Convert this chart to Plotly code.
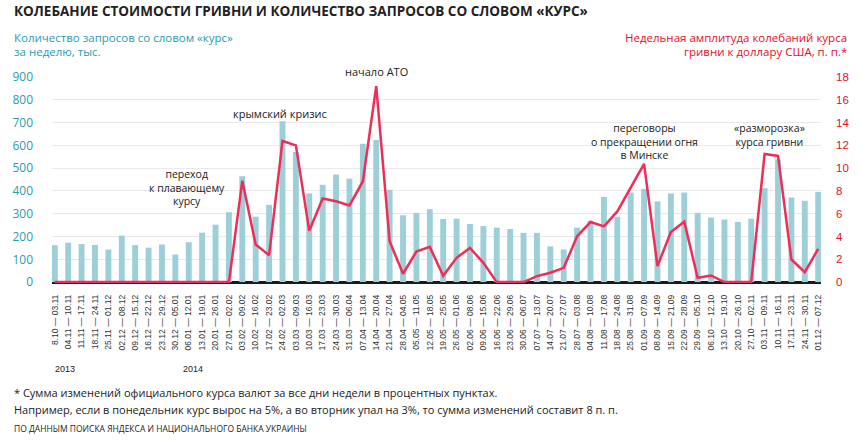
import plotly.graph_objects as go

weeks = [
    "8.10 — 03.11", "04.11 — 10.11", "11.11 — 17.11", "18.11 — 24.11", "25.11 — 01.12",
    "02.12 — 08.12", "09.12 — 15.12", "16.12 — 22.12", "23.12 — 29.12", "30.12 — 05.01",
    "06.01 — 12.01", "13.01 — 19.01", "20.01 — 26.01", "27.01 — 02.02", "03.02 — 09.02",
    "10.02 — 16.02", "17.02 — 23.02", "24.02 — 02.03", "03.03 — 09.03", "10.03 — 16.03",
    "17.03 — 23.03", "24.03 — 30.03", "31.03 — 06.04", "07.04 — 13.04", "14.04 — 20.04",
    "21.04 — 27.04", "28.04 — 04.05", "05.05 — 11.05", "12.05 — 18.05", "19.05 — 25.05",
    "26.05 — 01.06", "02.06 — 08.06", "09.06 — 15.06", "16.06 — 22.06", "23.06 — 29.06",
    "30.06 — 06.07", "07.07 — 13.07", "14.07 — 20.07", "21.07 — 27.07", "28.07 — 03.08",
    "04.08 — 10.08", "11.08 — 17.08", "18.08 — 24.08", "25.08 — 31.08", "01.09 — 07.09",
    "08.09 — 14.09", "15.09 — 21.09", "22.09 — 28.09", "29.09 — 05.10", "06.10 — 12.10",
    "13.10 — 19.10", "20.10 — 26.10", "27.10 — 02.11", "03.11 — 09.11", "10.11 — 16.11",
    "17.11 — 23.11", "24.11 — 30.11", "01.12 — 07.12",
]

queries = [162, 173, 167, 163, 143, 204, 162, 151, 165, 121,
           175, 217, 252, 307, 465, 287, 339, 706, 571, 389,
           427, 472, 454, 607, 623, 405, 293, 304, 320, 277,
           278, 255, 246, 239, 233, 216, 216, 157, 143, 239,
           269, 374, 287, 393, 409, 354, 389, 393, 304, 283,
           275, 264, 278, 412, 539, 371, 357, 396]

amplitude = [0, 0, 0, 0, 0, 0, 0, 0, 0, 0,
             0, 0, 0, 0, 8.9, 3.29, 2.36, 12.38, 12.0, 4.5,
             7.34, 7.1, 6.73, 8.83, 17.2, 3.58, 0.73, 2.68, 3.09, 0.55,
             2.13, 3.0, 1.69, 0, 0, 0, 0.52, 0.82, 1.25, 4.02,
             5.27, 4.89, 6.2, 8.24, 10.37, 1.4, 4.4, 5.3, 0.38, 0.58,
             0, 0, 0, 11.24, 11.07, 1.98, 0.87, 2.91]

left_ticks = [0, 100, 200, 300, 400, 500, 600, 700, 800, 900]
right_ticks = [0, 2, 4, 6, 8, 10, 12, 14, 16, 18]

W, H = 861, 440
ML, MR, MT, MB = 46, 40, 77, 157
PW, PH = W - ML - MR, H - MT - MB

def px(x):
    return (x - ML) / PW

def py(y):
    return (H - MB - y) / PH

TEAL = "#2a9bb0"
RED = "#e3102b"
DARK = "#222222"

fig = go.Figure()
fig.add_trace(go.Bar(
    x=list(range(len(weeks))), y=queries, marker_color="#9ccfd8",
    marker_line_width=0, width=0.44, yaxis="y",
))
fig.add_trace(go.Scatter(
    x=list(range(len(weeks))), y=amplitude, mode="lines",
    line=dict(color="#ef2d56", width=2.5), yaxis="y2",
))

fig.update_layout(
    width=W, height=H,
    margin=dict(l=ML, r=MR, t=MT, b=MB, pad=0),
    paper_bgcolor="white", plot_bgcolor="white",
    showlegend=False,
    xaxis=dict(
        range=[-0.21, 57.21], tickmode="array",
        tickvals=list(range(len(weeks))), ticktext=weeks,
        tickangle=-90, tickfont=dict(family="Liberation Sans, Arial", size=8.5, color="#333333"),
        showgrid=False, zeroline=False, showline=False, ticks="",
        ticklabelstandoff=9,
    ),
    yaxis=dict(
        range=[-4, 900], tickmode="array", tickvals=left_ticks,
        tickfont=dict(family="Open Sans", size=12, color=TEAL),
        showgrid=True, gridcolor="#e9e9e9", gridwidth=1,
        zeroline=True, zerolinecolor="#1a1a1a", zerolinewidth=3,
        showline=False, ticks="", ticklabelstandoff=18,
    ),
    yaxis2=dict(
        range=[-0.08, 18], tickmode="array", tickvals=right_ticks,
        overlaying="y", side="right",
        tickfont=dict(family="Liberation Sans, Arial", size=11.5, color=RED),
        showgrid=False, zeroline=False, showline=False, ticks="",
        ticklabelstandoff=14,
    ),
)

ann = []

def text(s, x, y, size, color=DARK, anchor="left", family="Open Sans", bold=False):
    if bold:
        s = "<b>" + s + "</b>"
    ann.append(dict(text=s, x=px(x), y=py(y), xref="paper", yref="paper",
                    xanchor=anchor, yanchor="middle", showarrow=False,
                    font=dict(family=family, size=size, color=color)))

text("КОЛЕБАНИЕ СТОИМОСТИ ГРИВНИ И КОЛИЧЕСТВО ЗАПРОСОВ СО СЛОВОМ «КУРС»", 6, 11, 13.5, DARK, bold=True)
text("Количество запросов со словом «курс»", 6, 37, 11.5, TEAL)
text("за неделю, тыс.", 6, 51, 11.5, TEAL)
text("Недельная амплитуда колебаний курса", 849, 37, 11.5, RED, anchor="right")
text("гривни к доллару США, п. п.*", 849, 51, 11.5, RED, anchor="right")

text("переход<br>к плавающему<br>курсу", 182, 187, 10.5, anchor="center")
text("крымский кризис", 276, 113, 11, anchor="center")
text("начало АТО", 373, 71, 11, anchor="center")
text("переговоры<br>о прекращении огня<br>в Минске", 643, 141, 10.5, anchor="center")
text("«разморозка»<br>курса гривни", 769, 134.5, 10.5, anchor="center")

text("2013", 47, 369, 9, family="Liberation Sans, Arial")
text("2014", 176, 369, 9, family="Liberation Sans, Arial")

text("* Сумма изменений официального курса валют за все дни недели в процентных пунктах.", 6, 392, 11)
text("Например, если в понедельник курс вырос на 5%, а во вторник упал на 3%, то сумма изменений составит 8 п. п.", 6, 409, 11)
text("ПО ДАННЫМ ПОИСКА ЯНДЕКСА И НАЦИОНАЛЬНОГО БАНКА УКРАИНЫ", 6, 428, 8.5)

fig.update_layout(annotations=ann)
fig.write_html("out.html", config={"displayModeBar": False},
               post_script="document.body.style.margin='0';document.body.style.padding='0';")
